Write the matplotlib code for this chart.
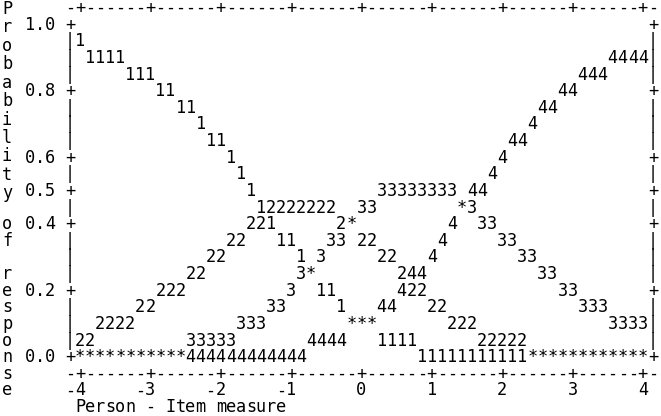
import matplotlib
matplotlib.use("Agg")
import matplotlib.pyplot as plt

# ---- data -------------------------------------------------------------
x_ticks = [-4, -3, -2, -1, 0, 1, 2, 3, 4]
x_tick_labels = ["-4", "-3", "-2", "-1", "0", "1", "2", "3", "4"]
y_ticks = [1.0, 0.8, 0.6, 0.5, 0.4, 0.2, 0.0]
y_tick_labels = ["1.0", "0.8", "0.6", "0.5", "0.4", "0.2", "0.0"]
x_title = "Person - Item measure"
y_title_1 = "Probability"
y_title_2 = "of response"

# category probability curves, one text line per 0.05 of probability (1.0 -> 0.0)
curve_rows = [
    "                                                         ",
    "1                                                        ",
    " 1111                                                4444",
    "     111                                          444    ",
    "        11                                      44       ",
    "          11                                  44         ",
    "            1                                4           ",
    "             11                            44            ",
    "               1                          4              ",
    "                1                        4               ",
    "                 1            33333333 44                ",
    "                  12222222  33        *3                 ",
    "                 221      2*         4  33               ",
    "               22   11   33 22      4     33             ",
    "             22       1 3     22   4        33           ",
    "           22         3*        244           33         ",
    "        222          3  11      422             33       ",
    "      22           33     1   44   22             333    ",
    "  2222          333        ***       222             3333",
    "22         33333       4444   1111      22222            ",
    "***********444444444444           11111111111************",
]

# ---- layout (character grid) -----------------------------------------
W, H, DPI = 6.61, 4.16, 100
CW = 10.05          # px per character column
C0 = -0.4           # px of column 0 centre
RH = 16.62          # px per text row
R0 = 7.0            # px of row 0 centre
LEFT = 7            # column of left frame
BODY = 8            # first body column
STEP = 7            # columns per x unit
RIGHT = BODY + STEP * (len(x_ticks) - 1) + 1
ROWS_PER_UNIT = 20

fig = plt.figure(figsize=(W, H), dpi=DPI)
ax = fig.add_axes([0, 0, 1, 1])
ax.set_xlim((0 - C0) / CW, (W * DPI - C0) / CW)
ax.set_ylim((H * DPI - R0) / RH, (0 - R0) / RH)
ax.axis("off")

FONT = dict(family="DejaVu Sans Mono", fontsize=12.2, color="black")
BASE = 0.37


def put(col, row, s):
    for i, ch in enumerate(s):
        if ch != " ":
            ax.text(col + i, row + BASE, ch, ha="center", va="baseline", **FONT)


def xcol(v):
    return BODY + STEP * (v - x_ticks[0])


def yrow(p):
    return 1 + round((1 - p) * ROWS_PER_UNIT)


tick_cols = [xcol(v) for v in x_ticks]
tick_rows = [yrow(p) for p in y_ticks]

# top and bottom axis lines
bottom_row = yrow(0.0) + 1
for r in (0, bottom_row):
    line = "".join("+" if c in tick_cols else "-" for c in range(LEFT, RIGHT + 1))
    put(LEFT, r, line)

# side frames
for r in range(yrow(1.0), yrow(0.0) + 1):
    mark = "+" if r in tick_rows else "|"
    put(LEFT, r, mark)
    put(RIGHT, r, mark)

# y tick labels
for lab, r in zip(y_tick_labels, tick_rows):
    put(LEFT - 1 - len(lab), r, lab)

# curves
for i, s in enumerate(curve_rows):
    put(BODY, yrow(1.0) + i, s)

# x tick labels (right aligned on tick)
for lab, c in zip(x_tick_labels, tick_cols):
    put(c - len(lab) + 1, bottom_row + 1, lab)

# x title
put(BODY, bottom_row + 2, x_title)

# vertical y title
lc = (7 - C0) / CW
for i, ch in enumerate(y_title_1):
    if ch != " ":
        ax.text(lc, 0.04 + 1.11 * i + BASE, ch, ha="center", va="baseline", **FONT)
for i, ch in enumerate(y_title_2):
    if ch != " ":
        ax.text(lc, 13 + i + BASE, ch, ha="center", va="baseline", **FONT)

fig.savefig("out.png", dpi=DPI, facecolor="white")
